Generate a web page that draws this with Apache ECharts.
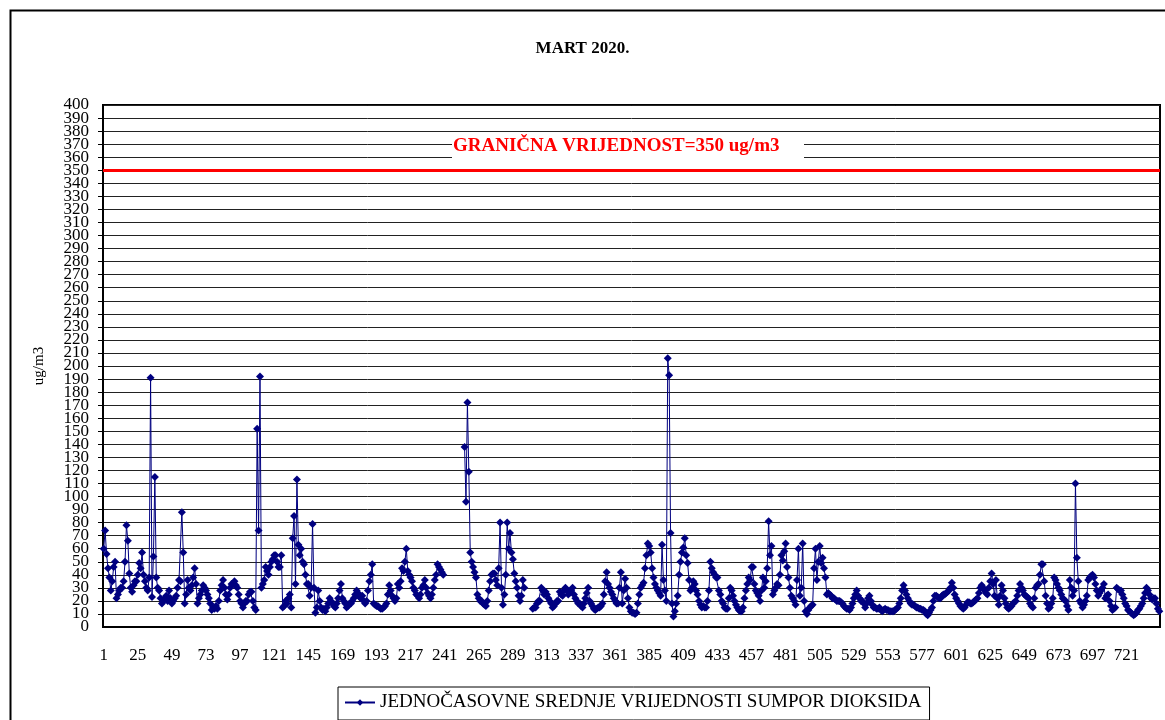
<!DOCTYPE html>
<html>
<head>
<meta charset="utf-8">
<script src="https://cdn.jsdelivr.net/npm/echarts@6/dist/echarts.min.js"></script>
<style>html,body{margin:0;padding:0;background:#fff;}#c{width:1165px;height:720px;}</style>
</head>
<body>
<div id="c"></div>
<script>
// Hourly SO2 values, March 2020 (one array per day, 24 hours each); null = missing
const d01 = [60,74,56,45,38,28,35,46,50,22,25,28,30,30,35,50,78,66,41,30,27,32,35,35];
const d02 = [40,49,45,57,40,35,30,28,38,191,23,54,115,38,30,28,22,18,20,22,24,20,28,22];
const d03 = [18,20,22,24,30,36,35,88,57,18,25,36,30,28,32,38,45,33,18,22,25,28,32,30];
const d04 = [28,25,22,18,13,15,14,16,14,20,28,32,36,30,25,21,25,30,33,33,35,32,30,25];
const d05 = [20,18,15,18,20,20,25,27,27,20,15,13,152,74,192,30,33,36,46,43,40,46,50,52];
const d06 = [55,55,50,46,46,55,15,16,20,18,22,25,15,68,85,33,113,63,55,60,50,48,40,33];
const d07 = [33,24,30,79,30,11,15,28,20,15,13,14,12,15,18,22,20,18,16,15,18,22,28,33];
const d08 = [22,20,18,15,16,18,18,20,22,25,28,26,23,22,24,20,18,20,28,35,40,48,18,17];
const d09 = [16,16,15,14,14,15,16,18,25,32,28,24,22,20,22,33,30,35,45,43,50,60,43,40];
const d10 = [38,35,30,28,25,24,22,25,30,32,36,30,26,24,22,25,30,36,40,48,46,44,42,40];
const d11 = [null,null,null,null,null,null,null,null,null,null,null,null,null,null,138,96,172,119,57,50,46,42,38,25];
const d12 = [22,20,20,18,17,16,20,28,35,40,41,41,36,32,45,80,30,17,25,40,80,60,72,57];
const d13 = [52,41,35,30,24,20,24,36,30,null,null,null,null,null,14,15,15,18,20,20,30,28,25,27];
const d14 = [25,22,20,18,15,16,18,20,20,27,25,24,28,30,28,25,26,28,30,25,22,20,18,18];
const d15 = [16,15,18,22,26,30,20,18,16,14,13,14,15,15,16,18,25,35,42,33,30,27,25,22];
const d16 = [20,18,18,30,42,18,28,37,30,22,15,12,11,11,10,11,18,25,30,32,34,45,55,64];
const d17 = [62,57,45,38,33,30,28,26,24,63,36,28,20,206,193,72,18,8,12,18,24,40,50,57];
const d18 = [61,68,55,49,36,28,30,35,33,28,25,20,17,15,16,15,15,20,28,50,45,42,40,38];
const d19 = [38,28,25,20,18,15,14,14,22,30,28,24,20,17,15,13,12,12,15,22,28,33,38,36];
const d20 = [46,46,33,28,26,24,20,28,38,30,35,45,81,55,62,25,28,30,33,32,40,55,51,58];
const d21 = [64,46,38,30,24,22,20,17,36,60,24,30,64,20,12,10,13,15,16,17,45,60,36,50];
const d22 = [62,49,53,45,38,25,26,25,24,22,22,21,20,20,20,19,18,16,15,14,14,13,15,18];
const d23 = [22,25,28,24,22,20,20,18,15,18,22,24,20,17,15,15,14,14,15,13,12,13,14,13];
const d24 = [13,12,12,12,12,13,14,15,18,22,28,32,28,25,22,20,18,17,17,16,15,15,14,14];
const d25 = [13,13,12,10,9,11,13,15,20,24,24,23,22,22,24,25,25,26,27,28,30,34,30,25];
const d26 = [22,20,18,16,15,14,15,17,19,19,18,18,19,20,21,22,26,30,32,30,28,26,25,30];
const d27 = [35,41,33,24,36,22,17,24,32,28,22,18,15,14,15,16,18,19,20,24,28,33,30,28];
const d28 = [25,24,23,22,18,16,15,22,30,32,33,40,48,48,35,24,18,14,15,18,22,38,36,33];
const d29 = [30,28,25,22,21,20,16,13,36,30,24,28,110,53,35,20,18,15,17,20,24,36,38,39];
const d30 = [40,38,33,28,24,26,28,30,33,22,24,25,20,16,13,14,15,30,29,28,28,25,22,18];
const d31 = [16,13,12,11,10,9,10,11,13,14,16,18,22,26,30,28,25,22,21,22,22,18,14,12];

const yMin = 0, yMax = 400, yStep = 10;
const limitValue = 350;
const limitLabel = 'GRANIČNA VRIJEDNOST=350 ug/m3';
const titleText = 'MART 2020.';
const seriesName = 'JEDNOČASOVNE SREDNJE VRIJEDNOSTI SUMPOR DIOKSIDA';
const yName = 'ug/m3';

const values = [].concat(d01,d02,d03,d04,d05,d06,d07,d08,d09,d10,d11,d12,d13,d14,d15,d16,
  d17,d18,d19,d20,d21,d22,d23,d24,d25,d26,d27,d28,d29,d30,d31);
const categories = values.map((v, i) => String(i + 1));

const serif = '"Liberation Serif", "DejaVu Serif", serif';
const yLabelStyle = {margin: 14, fontFamily: serif, fontSize: 17, color: '#000', lineHeight: 10};
const chart = echarts.init(document.getElementById('c'), null, {renderer: 'canvas'});
chart.setOption({
  animation: false,
  backgroundColor: '#fff',
  title: {
    text: titleText, left: 'center', top: 35,
    textStyle: {fontFamily: serif, fontSize: 17, fontWeight: 'bold', color: '#000'}
  },
  grid: {left: 103, right: 5, top: 105, bottom: 93, show: true, borderColor: '#000', borderWidth: 2, backgroundColor: '#fff'},
  legend: {
    left: 338, top: 687, padding: [6, 8, 8, 6],
    borderColor: '#000', borderWidth: 1, backgroundColor: '#fff',
    itemWidth: 30, itemHeight: 8, itemGap: 4,
    textStyle: {fontFamily: serif, fontSize: 19, color: '#000'},
    data: [seriesName]
  },
  xAxis: {
    type: 'category', data: categories, boundaryGap: true,
    axisLine: {lineStyle: {color: '#000', width: 2}},
    axisTick: {interval: 3, length: 6, lineStyle: {color: '#000', width: 1.5}},
    axisLabel: {interval: 23, margin: 20, fontFamily: serif, fontSize: 17, color: '#000'},
    splitLine: {show: false}
  },
  yAxis: [{
    type: 'value', min: yMin, max: yMax, interval: yStep, position: 'left',
    name: yName, nameLocation: 'middle', nameGap: 56, nameRotate: 90,
    nameTextStyle: {fontFamily: serif, fontSize: 15, color: '#000'},
    axisLine: {show: true, lineStyle: {color: '#000', width: 2}},
    axisTick: {show: true, length: 5, lineStyle: {color: '#000'}},
    axisLabel: Object.assign({}, yLabelStyle),
    splitLine: {lineStyle: {color: '#222', width: 1}}
  }, {
    type: 'value', min: yMin, max: yMax, interval: yStep, position: 'left', offset: 0,
    axisLine: {show: false}, axisTick: {show: false}, splitLine: {show: false},
    axisLabel: Object.assign({}, yLabelStyle, {
      showMinLabel: true, showMaxLabel: true,
      formatter: v => (v === yMin || v === yMax) ? String(v) : ''
    })
  }],
  series: [{
    name: seriesName, type: 'line', data: values, yAxisIndex: 0,
    connectNulls: false, showAllSymbol: true,
    symbol: 'diamond', symbolSize: 8,
    lineStyle: {color: '#000080', width: 1},
    itemStyle: {color: '#000080'},
    markLine: {
      silent: true, symbol: 'none',
      label: {show: false},
      lineStyle: {color: '#ff0000', width: 3, type: 'solid'},
      data: [{yAxis: limitValue}]
    }
  }],
  graphic: [
    {type: 'rect', left: 8, top: 8, shape: {width: 1170, height: 730},
     style: {fill: 'none', stroke: '#000', lineWidth: 2}, z: 100, silent: true},
    {type: 'rect', left: 452, top: 136, shape: {width: 352, height: 26},
     style: {fill: '#fff'}, z: 50},
    {type: 'text', left: 453, top: 137, z: 51,
     style: {text: limitLabel, fill: '#ff0000', font: 'bold 19px ' + serif}}
  ]
});
</script>
</body>
</html>
